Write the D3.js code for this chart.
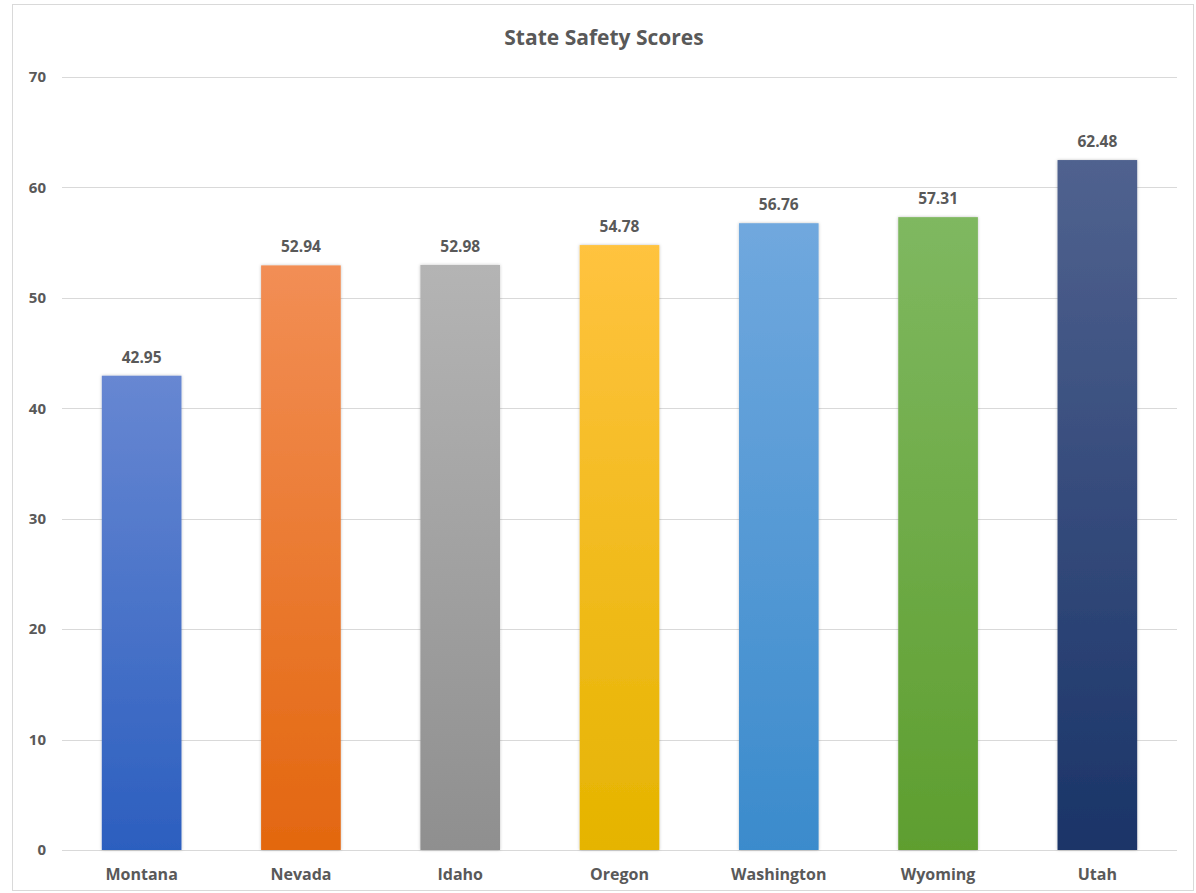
<!DOCTYPE html>
<html>
<head>
<meta charset="utf-8">
<script src="https://cdn.jsdelivr.net/npm/d3@7"></script>
<style>
  body { margin: 0; background: #fff; }
  text { font-family: "Open Sans", Lato, sans-serif; font-weight: 700; fill: #595959; }
</style>
</head>
<body>
<script>
// Chart data
var states = ["Montana", "Nevada", "Idaho", "Oregon", "Washington", "Wyoming", "Utah"];
var scores = [42.95, 52.94, 52.98, 54.78, 56.76, 57.31, 62.48];
var yTicks = [0, 10, 20, 30, 40, 50, 60, 70];
var topColors = ["#6787d2", "#f28e55", "#b4b4b4", "#ffc33f", "#70a8de", "#7fb860", "#50628f"];
var bottomColors = ["#2c5fbf", "#e3670f", "#8f8f8f", "#e5b400", "#3b8bcc", "#5e9e2f", "#1a3468"];

// Width and height
var w = 1196;
var h = 893;
var margin = { top: 77, right: 19, bottom: 43, left: 62 };

var svg = d3.select("body")
      .append("svg")
      .attr("width", w)
      .attr("height", h);

// outer frame
svg.append("rect")
   .attr("x", 12.5).attr("y", 4.5)
   .attr("width", 1181).attr("height", 886)
   .attr("fill", "#fff")
   .attr("stroke", "#d9d9d9");

var x = d3.scaleBand()
          .domain(states)
          .range([margin.left, w - margin.right])
          .paddingInner(0.5)
          .paddingOuter(0.25);

var y = d3.scaleLinear()
          .domain([0, 70])
          .range([h - margin.bottom, margin.top]);

// gradients and shadow
var defs = svg.append("defs");
states.forEach(function(s, i) {
  var g = defs.append("linearGradient")
      .attr("id", "grad" + i)
      .attr("x1", 0).attr("y1", 0).attr("x2", 0).attr("y2", 1);
  g.append("stop").attr("offset", "0%").attr("stop-color", topColors[i]);
  g.append("stop").attr("offset", "100%").attr("stop-color", bottomColors[i]);
});
var shadow = defs.append("filter").attr("id", "shadow")
    .attr("x", "-10%").attr("y", "-10%").attr("width", "120%").attr("height", "120%");
shadow.append("feDropShadow")
      .attr("dx", 0).attr("dy", 0).attr("stdDeviation", 1.5)
      .attr("flood-color", "#000").attr("flood-opacity", 0.25);

// gridlines
svg.append("g")
   .selectAll("line")
   .data(yTicks)
   .enter()
   .append("line")
   .attr("x1", margin.left)
   .attr("x2", w - margin.right)
   .attr("y1", function(d) { return Math.round(y(d)) + 0.5; })
   .attr("y2", function(d) { return Math.round(y(d)) + 0.5; })
   .attr("stroke", "#d9d9d9")
   .attr("stroke-width", 1);

// y axis labels
var yAxis = d3.axisLeft(y).tickValues(yTicks).tickSize(0).tickPadding(0);
var yG = svg.append("g")
   .attr("transform", "translate(46,0)")
   .call(yAxis);
yG.select(".domain").remove();
yG.selectAll("text")
  .attr("font-size", 15)
  .attr("font-family", "'Open Sans', Lato, sans-serif")
  .attr("fill", "#595959");

// bars
svg.selectAll("rect.bar")
   .data(scores)
   .enter()
   .append("rect")
   .attr("class", "bar")
   .attr("x", function(d, i) { return x(states[i]); })
   .attr("y", function(d) { return y(d); })
   .attr("width", x.bandwidth())
   .attr("height", function(d) { return y(0) - y(d); })
   .attr("fill", function(d, i) { return "url(#grad" + i + ")"; })
   .attr("filter", "url(#shadow)");

// value labels
svg.selectAll("text.value")
   .data(scores)
   .enter()
   .append("text")
   .attr("class", "value")
   .attr("x", function(d, i) { return x(states[i]) + x.bandwidth() / 2; })
   .attr("y", function(d) { return y(d) - 13; })
   .attr("text-anchor", "middle")
   .attr("font-size", 15.5)
   .text(function(d) { return d.toFixed(2); });

// x axis labels
var xAxis = d3.axisBottom(x).tickSize(0).tickPadding(0);
var xG = svg.append("g")
   .attr("transform", "translate(0," + (y(0) + 19) + ")")
   .call(xAxis);
xG.select(".domain").remove();
xG.selectAll("text")
  .attr("font-size", 16)
  .attr("font-family", "'Open Sans', Lato, sans-serif")
  .attr("fill", "#595959");

// title
svg.append("text")
   .attr("x", w / 2 + 6)
   .attr("y", 45)
   .attr("text-anchor", "middle")
   .attr("font-size", 21)
   .text("State Safety Scores");
</script>
</body>
</html>
